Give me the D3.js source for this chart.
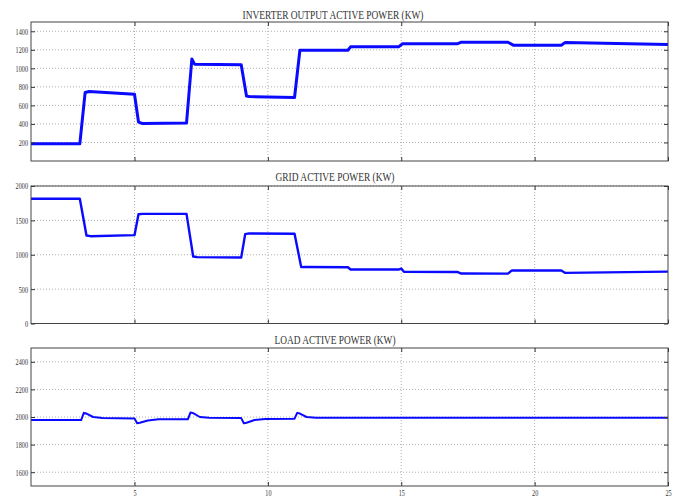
<!DOCTYPE html>
<html><head><meta charset="utf-8">
<script src="https://cdn.jsdelivr.net/npm/d3@7"></script>
<style>body{margin:0;background:#fff;overflow:hidden}</style>
</head><body>
<svg id="c" width="673" height="497"></svg>
<script>
// ---------- data ----------
const xTickValues = [5, 10, 15, 20, 25];
const xTickLabels = ["5", "10", "15", "20", "25"];

const titleInverter = "INVERTER OUTPUT ACTIVE POWER (KW)";
const titleGrid = "GRID ACTIVE POWER (KW)";
const titleLoad = "LOAD ACTIVE POWER (KW)";

const yTicksInverter = [200, 400, 600, 800, 1000, 1200, 1400];
const yTicksGrid = [0, 500, 1000, 1500, 2000];
const yTicksLoad = [1600, 1800, 2000, 2200, 2400];

const inverterTime  = [1.1, 2.95, 3.15, 3.3, 5.0, 5.15, 5.3, 6.95, 7.15, 7.25, 9.0, 9.2, 9.3, 11.0, 11.2, 11.3, 13.0, 13.1, 14.9, 15.05, 17.1, 17.25, 19.0, 19.2, 21.0, 21.15, 25.0];
const inverterPower = [185, 185, 740, 750, 720, 420, 405, 410, 1100, 1045, 1040, 700, 695, 685, 1195, 1195, 1195, 1232, 1232, 1265, 1265, 1282, 1282, 1250, 1250, 1280, 1258];

const gridTime  = [1.1, 2.95, 3.2, 3.35, 5.0, 5.15, 5.3, 6.95, 7.2, 7.35, 9.0, 9.15, 9.3, 11.0, 11.25, 11.4, 13.0, 13.1, 14.9, 15.0, 15.1, 17.1, 17.25, 19.0, 19.15, 21.0, 21.15, 25.0];
const gridPower = [1815, 1815, 1280, 1270, 1285, 1590, 1595, 1595, 975, 965, 960, 1300, 1310, 1305, 820, 822, 818, 785, 785, 800, 752, 750, 727, 725, 772, 772, 736, 755];

const loadTime  = [1.1, 3.0, 3.1, 3.2, 3.45, 3.8, 5.0, 5.1, 5.2, 5.5, 5.9, 7.0, 7.1, 7.2, 7.45, 7.8, 9.0, 9.1, 9.2, 9.5, 9.9, 11.0, 11.1, 11.2, 11.45, 11.8, 25.0];
const loadPower = [1978, 1978, 2030, 2025, 2000, 1993, 1990, 1955, 1958, 1975, 1983, 1983, 2033, 2028, 2000, 1995, 1992, 1955, 1958, 1978, 1985, 1988, 2030, 2025, 2000, 1995, 1995];

// ---------- layout ----------
const svg = d3.select("#c");
const left = 31, right = 668;
const x = d3.scaleLinear().domain([1.12, 25]).range([left, right]);

const panels = [
  {title: titleInverter, top: 22, bottom: 161, domain: [0, 1500], ticks: yTicksInverter, t: inverterTime, v: inverterPower, sw: 3, ty: 18.5, tx: 333, tw: 181, showX: false},
  {title: titleGrid, top: 186, bottom: 323.5, domain: [0, 2000], ticks: yTicksGrid, t: gridTime, v: gridPower, sw: 2.4, ty: 180.5, tx: 335, tw: 119, showX: false},
  {title: titleLoad, top: 348, bottom: 486, domain: [1500, 2500], ticks: yTicksLoad, t: loadTime, v: loadPower, sw: 2, ty: 343.5, tx: 335, tw: 121, showX: true}
];

const serif = "'Liberation Serif','DejaVu Serif',serif";
const fmt = d3.format("d");

panels.forEach((p, i) => {
  const y = d3.scaleLinear().domain(p.domain).range([p.bottom, p.top]);
  const g = svg.append("g");

  // title
  g.append("text")
    .attr("x", p.tx).attr("y", p.ty)
    .attr("text-anchor", "middle")
    .attr("font-family", serif).attr("font-size", 13)
    .attr("fill", "#333")
    .attr("textLength", p.tw).attr("lengthAdjust", "spacingAndGlyphs")
    .text(p.title);

  // grid
  const grid = g.append("g").attr("stroke", "#9a9a9a").attr("stroke-width", 0.8).attr("stroke-dasharray", "1,2");
  p.ticks.forEach(tv => {
    grid.append("line").attr("x1", left).attr("x2", right).attr("y1", y(tv)).attr("y2", y(tv));
  });
  xTickValues.filter(tv => tv < 25).forEach(tv => {
    grid.append("line").attr("x1", x(tv)).attr("x2", x(tv)).attr("y1", p.top).attr("y2", p.bottom);
  });

  // clip + data
  const cid = "clip" + i;
  svg.append("clipPath").attr("id", cid).append("rect")
    .attr("x", left).attr("y", p.top).attr("width", right - left).attr("height", p.bottom - p.top);
  const pts = p.t.map((t, k) => [t, p.v[k]]);
  g.append("path")
    .attr("clip-path", `url(#${cid})`)
    .attr("d", d3.line().x(d => x(d[0])).y(d => y(d[1]))(pts))
    .attr("fill", "none").attr("stroke", "#0a0aff")
    .attr("stroke-width", p.sw).attr("stroke-linejoin", "round");

  // axes (ticks inward)
  const axL = g.append("g").attr("transform", `translate(${left},0)`)
    .call(d3.axisLeft(y).tickValues(p.ticks).tickSize(-4).tickPadding(3).tickFormat(fmt));
  const axR = g.append("g").attr("transform", `translate(${right},0)`)
    .call(d3.axisRight(y).tickValues(p.ticks).tickSize(-4).tickFormat(""));
  const axT = g.append("g").attr("transform", `translate(0,${p.top})`)
    .call(d3.axisTop(x).tickValues(xTickValues).tickSize(-4).tickFormat(""));
  const axB = g.append("g").attr("transform", `translate(0,${p.bottom})`)
    .call(d3.axisBottom(x).tickValues(xTickValues).tickSize(-4).tickPadding(4)
      .tickFormat((d, k) => p.showX ? xTickLabels[k] : ""));

  [axL, axR, axT, axB].forEach(a => {
    a.select(".domain").remove();
    a.selectAll("line").attr("stroke", "#333");
    a.selectAll("text").attr("font-family", serif).attr("font-size", 9).attr("fill", "#333")
      .each(function () {
        const s = d3.select(this).text();
        if (s) d3.select(this).attr("textLength", s.length * 3.1).attr("lengthAdjust", "spacingAndGlyphs");
      });
  });

  // frame
  g.append("rect").attr("x", left).attr("y", p.top)
    .attr("width", right - left).attr("height", p.bottom - p.top)
    .attr("fill", "none").attr("stroke", "#444").attr("stroke-width", 1);
});
</script>
</body></html>
